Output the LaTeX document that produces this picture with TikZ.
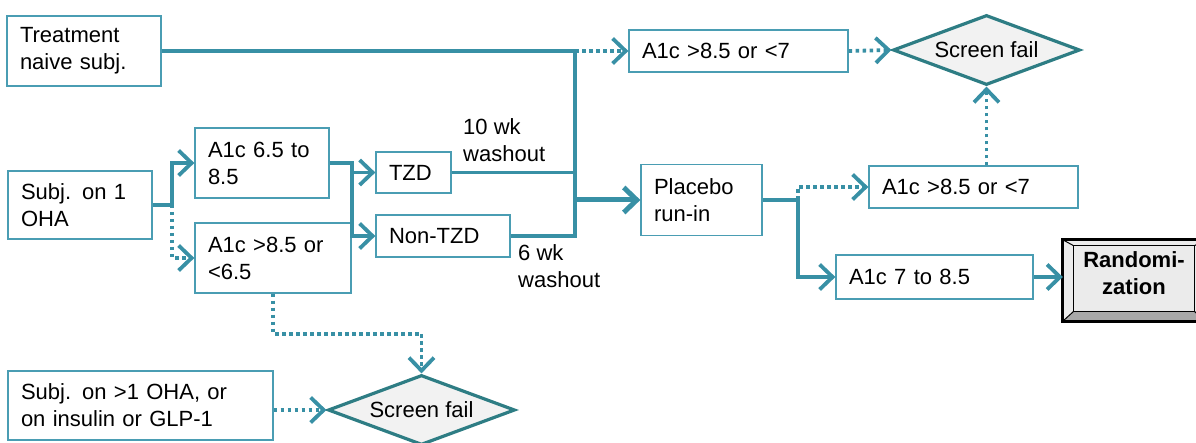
\documentclass[tikz,border=0pt]{standalone}
\usepackage{fontspec}
\setmainfont{Liberation Sans}
\usetikzlibrary{shapes.geometric,arrows.meta,calc}
\definecolor{tealline}{HTML}{3890A5}
\definecolor{tealbox}{HTML}{4A9DB3}
\definecolor{tealdark}{HTML}{2E7D84}
\definecolor{failfill}{HTML}{F2F2F2}
\definecolor{randfill}{HTML}{EBEBEB}
\definecolor{bevel}{HTML}{A8A8A8}

\begin{document}
\begin{tikzpicture}[x=1pt, y=-1pt,
        every node/.style={font=\fontsize{22}{27}\selectfont},
        block/.style={rectangle, draw=tealbox, line width=1.3pt, fill=white, inner xsep=13pt, inner ysep=0pt, align=left},
        fail/.style={diamond, draw=tealdark, line width=3.2pt, fill=failfill, aspect=2.67, inner sep=0pt, minimum width=187pt, minimum height=70pt},
        randbox/.style={rectangle, fill=randfill, inner sep=0pt, minimum width=142pt, minimum height=81pt},
        note/.style={anchor=north west, inner sep=0pt, align=left},
        flow/.style={draw=tealline, line width=3.8pt},
        dotflow/.style={draw=tealline, line width=3.8pt, dash pattern=on 3.5pt off 3.5pt},
        >={Straight Barb[length=13pt, width=25pt]}]

        \useasboundingbox (0,0) rectangle (1196,443);

        % Entry groups
        \node[block, text width=128pt, minimum height=70pt] (naive) at (84,51) {Treatment\\naive subj.};
        \node[block, text width=118pt, minimum height=68pt] (oha1) at (80,205) {Subj. on 1\\OHA};
        \node[block, text width=239pt, minimum height=69pt] (oha2) at (140.5,405.5) {Subj. on >1 OHA, or\\on insulin or GLP-1};

        % A1c check and washout
        \node[block, text width=108pt, minimum height=70pt] (a1cin) at (262,163) {A1c 6.5 to\\8.5};
        \node[block, text width=130pt, minimum height=70pt] (a1cout) at (273,258) {A1c >8.5 or\\<6.5};
        \node[block, text width=49pt, minimum height=41pt] (tzd) at (413.5,172.5) {TZD};
        \node[block, text width=108pt, minimum height=42pt] (ntzd) at (443,236) {Non-TZD};
        \node[note] (wk10) at (463,118) {10 wk\\washout};
        \node[note] (wk6) at (518,244) {6 wk\\washout};
        \node[fail] (failbot) at (421.5,410) {Screen fail};

        % Run-in
        \node[block, text width=95pt, minimum height=71pt] (placebo) at (701.5,200) {Placebo\\run-in};
        \node[block, text width=193pt, minimum height=42pt] (scrtop) at (738.5,51) {A1c >8.5 or <7};
        \node[fail] (failtop) at (986.5,50) {Screen fail};
        \node[block, text width=183pt, minimum height=42pt] (scrmid) at (973.5,187) {A1c >8.5 or <7};
        \node[block, text width=171pt, minimum height=44pt] (a1crand) at (934.5,277) {A1c 7 to 8.5};

        % Randomization (bevelled box)
        \node[randbox] (rand) at (1134,280.5) {};
        \fill[bevel] (rand.south west) -- ($(rand.south west)+(11,-10)$) -- ($(rand.south east)+(-11,-10)$) -- (rand.south east) -- cycle;
        \draw[line width=1pt] ($(rand.north west)+(11,6)$) rectangle ($(rand.south east)+(-11,-10)$);
        \draw[line width=1pt] (rand.north west) -- ++(11,6) (rand.south west) -- ++(11,-10)
            (rand.north east) -- ++(-11,6) (rand.south east) -- ++(-11,-10);
        \draw[line width=3pt] (rand.north west) rectangle (rand.south east);
        \node[font=\fontsize{22}{27}\selectfont\bfseries, align=center, inner sep=0pt] (randlbl) at ($(rand)+(0,-7)$) {Randomi-\\zation};

        % Connectors into run-in
        \coordinate (jtop) at (575,51);
        \coordinate (jrun) at (575,200);
        \coordinate (jbot) at (575,236);
        \draw[flow] (naive.east) -- (jtop) -- (jbot) -- (ntzd.east);
        \draw[flow] (tzd.east) -- (tzd.east -| jtop);
        \draw[flow, line width=5pt, ->] (jrun) -- (placebo.west);
        \draw[dotflow, ->] (jtop) -- (scrtop.west);
        \draw[dotflow, ->] (scrtop.east) -- (failtop.west);

        % Connectors from OHA subjects
        \coordinate (joha) at (172,205);
        \coordinate (jsplit) at (352,163);
        \draw[flow, ->] (oha1.east) -- (joha) |- (a1cin.west);
        \draw[dotflow, ->] (joha) |- (a1cout.west);
        \draw[flow, ->] (a1cin.east) -- (jsplit) |- (ntzd.west);
        \draw[flow, ->] (tzd.west -| jsplit) -- (tzd.west);
        \draw[dotflow, ->] (a1cout.south) -- ++(0,40) -| (failbot.north);
        \draw[dotflow, ->] (oha2.east |- failbot.west) -- (failbot.west);

        % Connectors after run-in
        \coordinate (jpl) at (798,200);
        \draw[flow, ->] (placebo.east) -- (jpl) |- (a1crand.west);
        \draw[dotflow, ->] (jpl) |- (scrmid.west);
        \draw[dotflow, ->] (scrmid.north -| failtop.south) -- (failtop.south);
        \draw[flow, ->] (a1crand.east) -- (a1crand.east -| rand.west);

    \end{tikzpicture}
\end{document}
